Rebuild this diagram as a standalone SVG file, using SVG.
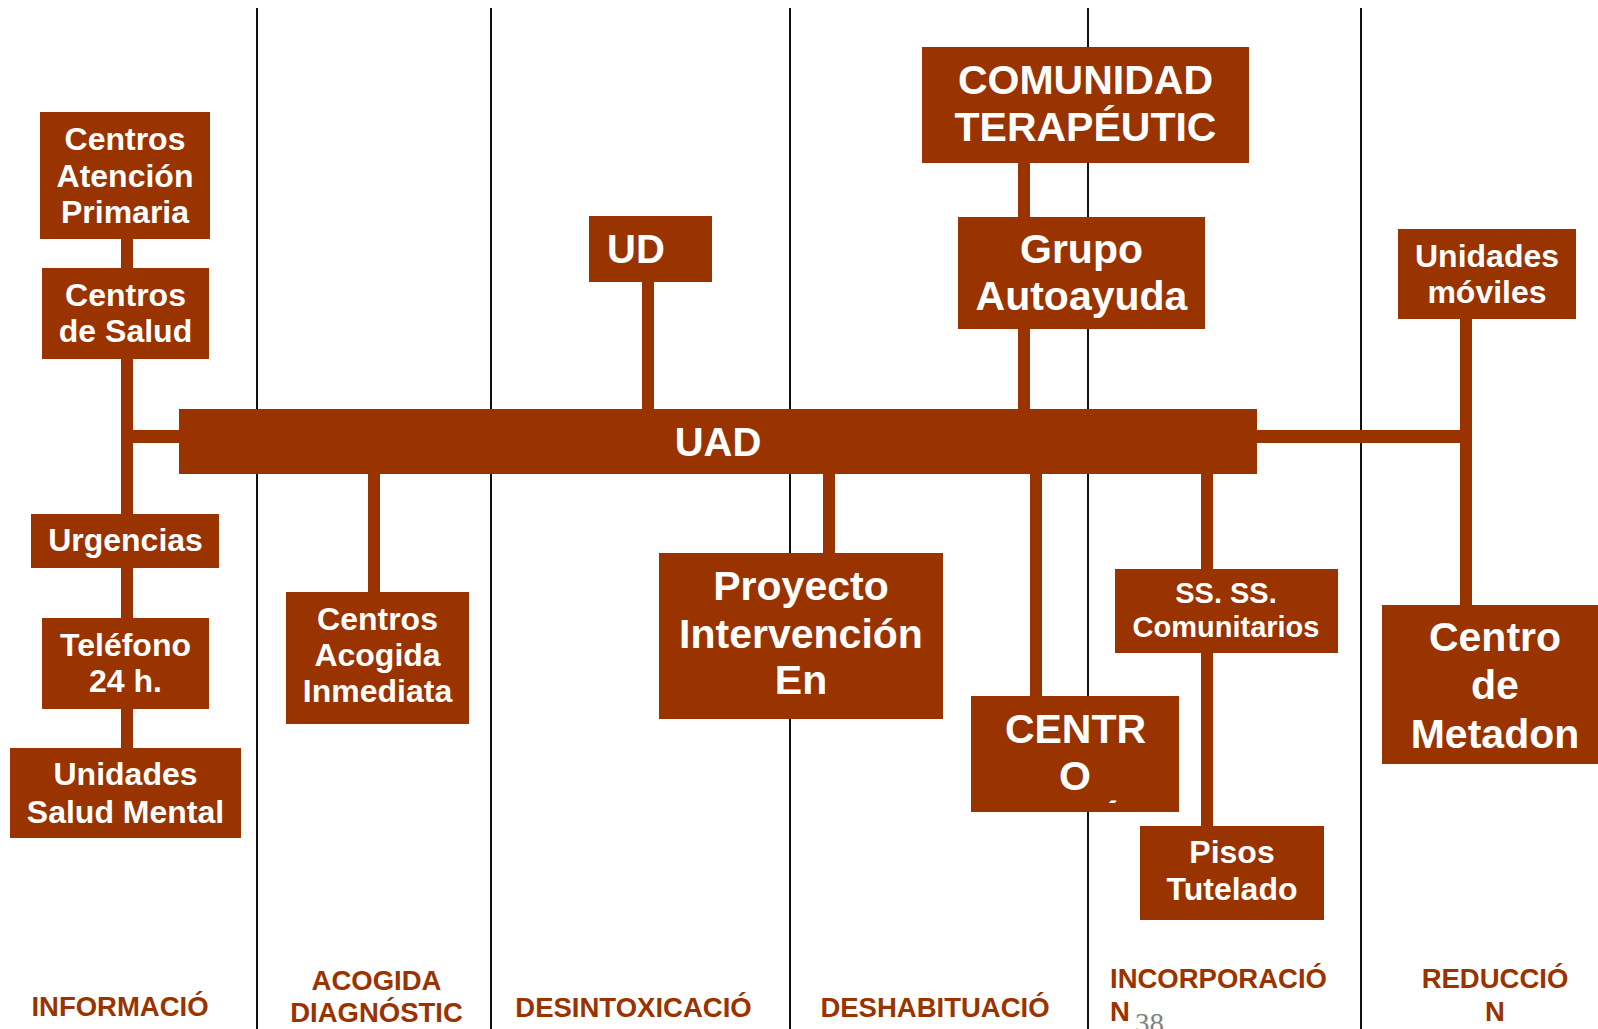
<svg xmlns="http://www.w3.org/2000/svg" width="1598" height="1029" viewBox="0 0 1598 1029">
<style>
.box{fill:#993300}
.lane{stroke:#111;stroke-width:2;fill:none}
.con{fill:#993300}
text{font-family:"Liberation Sans",Arial,sans-serif;font-weight:bold}
.t{fill:#fff;text-anchor:middle}
.s32{font-size:32px}
.s41{font-size:41px}
.s29{font-size:29px}
.lab{fill:#993300;font-size:27.5px}
</style>
<defs>
<clipPath id="cclip"><rect x="971" y="696" width="208" height="107"/></clipPath>
</defs>
<rect width="1598" height="1029" fill="#fff"/>
<g id="lanes">
<line class="lane" x1="257" y1="8" x2="257" y2="1029"/>
<line class="lane" x1="491" y1="8" x2="491" y2="1029"/>
<line class="lane" x1="790" y1="8" x2="790" y2="1029"/>
<line class="lane" x1="1088" y1="8" x2="1088" y2="1029"/>
<line class="lane" x1="1361" y1="8" x2="1361" y2="1029"/>
</g>
<g id="connectors">
<rect class="con" x="121" y="239" width="12" height="510"/>
<rect class="con" x="121" y="430" width="60" height="13"/>
<rect class="con" x="642" y="282" width="12" height="128"/>
<rect class="con" x="1018" y="163" width="12" height="247"/>
<rect class="con" x="368" y="473" width="12" height="120"/>
<rect class="con" x="823" y="473" width="12" height="81"/>
<rect class="con" x="1030" y="473" width="12" height="224"/>
<rect class="con" x="1201" y="473" width="12" height="354"/>
<rect class="con" x="1255" y="430" width="217" height="13"/>
<rect class="con" x="1460" y="318" width="12" height="288"/>
</g>
<g id="uad">
<rect class="box" x="179" y="409" width="1078" height="65"/>
<text class="t" x="718" y="456" font-size="40">UAD</text>
</g>
<g id="cap">
<rect class="box" x="40" y="112" width="170" height="127"/>
<text class="t s32" x="125" y="150">Centros</text>
<text class="t s32" x="125" y="187">Atención</text>
<text class="t s32" x="125" y="223">Primaria</text>
</g>
<g id="cds">
<rect class="box" x="42" y="268" width="167" height="91"/>
<text class="t s32" x="125.5" y="306">Centros</text>
<text class="t s32" x="125.5" y="342">de Salud</text>
</g>
<g id="urg">
<rect class="box" x="31" y="514" width="188" height="54"/>
<text class="t s32" x="125.5" y="551">Urgencias</text>
</g>
<g id="tel">
<rect class="box" x="42" y="618" width="167" height="91"/>
<text class="t s32" x="125.5" y="656">Teléfono</text>
<text class="t s32" x="125.5" y="692">24 h.</text>
</g>
<g id="usm">
<rect class="box" x="10" y="748" width="231" height="90"/>
<text class="t s32" x="125.5" y="785">Unidades</text>
<text class="t s32" x="125.5" y="823">Salud Mental</text>
</g>
<g id="cai">
<rect class="box" x="286" y="592" width="183" height="132"/>
<text class="t s32" x="377.5" y="630">Centros</text>
<text class="t s32" x="377.5" y="666">Acogida</text>
<text class="t s32" x="377.5" y="702">Inmediata</text>
</g>
<g id="ud">
<rect class="box" x="589" y="216" width="123" height="66"/>
<text x="607" y="263" font-size="40" fill="#fff">UD</text>
</g>
<g id="proyecto">
<rect class="box" x="659" y="553" width="284" height="166"/>
<text class="t s41" x="801" y="600">Proyecto</text>
<text class="t s41" x="801" y="648">Intervención</text>
<text class="t s41" x="801" y="694">En</text>
</g>
<g id="comunidad">
<rect class="box" x="922" y="47" width="327" height="116"/>
<text class="t s41" x="1085.5" y="94">COMUNIDAD</text>
<text class="t s41" x="1085.5" y="141">TERAPÉUTIC</text>
</g>
<g id="grupo">
<rect class="box" x="958" y="217" width="247" height="112"/>
<text class="t s41" x="1081.5" y="263">Grupo</text>
<text class="t s41" x="1081.5" y="310">Autoayuda</text>
</g>
<g id="centro">
<rect class="box" x="971" y="696" width="208" height="116"/>
<text class="t s41" x="1075.5" y="743">CENTR</text>
<text class="t s41" x="1075" y="790">O</text>
<text class="t s41" x="1111" y="831" clip-path="url(#cclip)">´</text>
</g>
<g id="ss">
<rect class="box" x="1115" y="569" width="223" height="84"/>
<text class="t s29" x="1226" y="603">SS. SS.</text>
<text class="t s29" x="1226" y="637">Comunitarios</text>
</g>
<g id="pisos">
<rect class="box" x="1140" y="826" width="184" height="94"/>
<text class="t s32" x="1232" y="863">Pisos</text>
<text class="t s32" x="1232" y="900">Tutelado</text>
</g>
<g id="moviles">
<rect class="box" x="1398" y="229" width="178" height="90"/>
<text class="t s32" x="1487" y="267">Unidades</text>
<text class="t s32" x="1487" y="303">móviles</text>
</g>
<g id="metadon">
<rect class="box" x="1382" y="605" width="216" height="159"/>
<text class="t s41" x="1495" y="651">Centro</text>
<text class="t s41" x="1495" y="699">de</text>
<text class="t s41" x="1495" y="748">Metadon</text>
</g>
<g id="labels">
<text class="lab" x="120" y="1016" text-anchor="middle">INFORMACIÓ</text>
<text class="lab" x="376.5" y="990" text-anchor="middle">ACOGIDA</text>
<text class="lab" x="376.5" y="1022" text-anchor="middle">DIAGNÓSTIC</text>
<text class="lab" x="633.5" y="1017" text-anchor="middle">DESINTOXICACIÓ</text>
<text class="lab" x="935" y="1017" text-anchor="middle">DESHABITUACIÓ</text>
<text class="lab" x="1110" y="988">INCORPORACIÓ</text>
<text class="lab" x="1110" y="1021">N</text>
<text class="lab" x="1495" y="988" text-anchor="middle">REDUCCIÓ</text>
<text class="lab" x="1495" y="1021" text-anchor="middle">N</text>
<text x="1135" y="1033" font-size="29" font-weight="normal" fill="#808080" style="font-family:'Liberation Serif','Times New Roman',serif;font-weight:normal">38</text>
</g>
</svg>
